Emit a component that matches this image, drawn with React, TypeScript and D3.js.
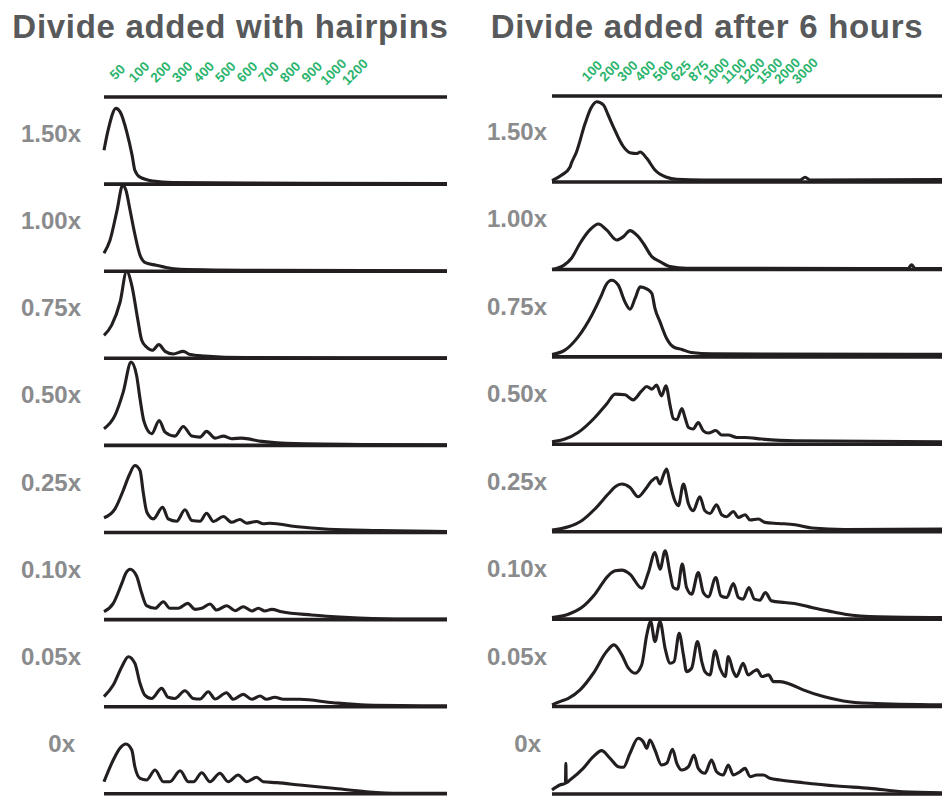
import React from "react";
import * as d3 from "d3";

// panel labels (top to bottom)
const doses = ["1.50x", "1.00x", "0.75x", "0.50x", "0.25x", "0.10x", "0.05x", "0x"];

const leftTitle = "Divide added with hairpins";
const rightTitle = "Divide added after 6 hours";

const leftTicks = ["50", "100", "200", "300", "400", "500", "600", "700", "800", "900", "1000", "1200"];
const rightTicks = ["100", "200", "300", "400", "500", "625", "875", "1000", "1100", "1200", "1500", "2000", "3000"];

// traces: [position %, signal % of panel height]
const hairpins150 = [
  [0, 39], [1.2, 62], [3.5, 87], [4.7, 83], [6.7, 59], [8.2, 33], [9.0, 16], [10.5, 8],
  [14.3, 3.5], [20, 1.7], [42.6, 1.1], [100, 0.6],
];
const hairpins100 = [
  [0, 20.7], [1.75, 35.6], [3.8, 70], [5.45, 98.8], [6.4, 93], [7.6, 70], [9.0, 42.5], [10.5, 18.4],
  [12.2, 9.5], [15.2, 6.9], [18.1, 4.3], [22.2, 2.3], [45.5, 1.1], [100, 0.6],
];
const hairpins075 = [
  [0, 26.4], [2.2, 37.9], [4.7, 64.7], [6.6, 100], [8.1, 83.9], [9.8, 45.6], [11.0, 20.7], [12.4, 13],
  [14.1, 9.2], [16.0, 15.7], [17.8, 8], [20.2, 4.9], [23.1, 8], [25.1, 4.3], [29.4, 2.6], [41.1, 0.8],
  [100, 0.6],
];
const hairpins050 = [
  [0, 19.2], [3.2, 34.5], [5.6, 61.2], [7.9, 95.7], [9.5, 80.4], [10.5, 53.7], [11.7, 26.8], [13.9, 13.4],
  [16.1, 28.7], [17.8, 15.3], [20.7, 10.7], [23.1, 21.8], [25.6, 10.7], [28, 9.5], [29.9, 16.1],
  [32.4, 8.4], [34.8, 10.7], [37.2, 7.7], [40.1, 8.4], [46, 4.6], [55.7, 2], [75.1, 1.1], [100, 0.6],
];
const hairpins025 = [
  [0, 16.9], [3.2, 27.2], [5.6, 48.3], [7.3, 65.5], [9.0, 77], [10.5, 71.2], [11.5, 44.5], [12.5, 23.3],
  [14.4, 15.7], [17.1, 29.1], [18.7, 15.7], [21.2, 13], [23.6, 26.1], [25.6, 13.8], [28, 13],
  [29.9, 22.2], [31.9, 12.6], [34.8, 18.4], [37.2, 11.8], [39.6, 14.9], [41.6, 10.7], [44.5, 12.6],
  [46.4, 10], [48.4, 10.7], [55.7, 6.9], [65.4, 3.8], [80, 2.3], [100, 1.1],
];
const hairpins010 = [
  [0, 9.1], [2.7, 18.7], [5.2, 41.7], [6.4, 53.5], [7.6, 57.8], [9.5, 50.1], [11, 30.2], [12.4, 16],
  [14.9, 13], [17.3, 20.6], [19.2, 13], [21.7, 13], [24.4, 18.7], [26.5, 11.8], [28.5, 13], [30.9, 17.9],
  [32.8, 11], [35.8, 16], [38.2, 10.2], [40.6, 14.8], [43.1, 9.9], [45, 13], [46.9, 9.9], [48.9, 11.8],
  [51.8, 9.1], [60.5, 5.3], [70.2, 2.6], [84.8, 0.7], [100, 0.7],
];
const hairpins005 = [
  [0, 11.5], [2.7, 24.9], [5.2, 46], [7.1, 57.5], [9.0, 49.9], [10.5, 26.9], [11.9, 13.4], [13.9, 9.5],
  [16.8, 21.1], [18.7, 10.8], [20.7, 9.5], [23.6, 18.4], [26, 9.5], [28, 8.8], [30.4, 17.2], [32.4, 8.8],
  [35.7, 16.1], [37.7, 8.5], [40.6, 14.2], [43.1, 8.5], [45.5, 12.3], [47.4, 8.5], [49.8, 10.8],
  [52.3, 8.5], [57.1, 8.5], [66.8, 4.6], [76.5, 2], [100, 1.1],
];
const hairpins000 = [
  [0, 13.9], [2.7, 38.8], [4.7, 52.6], [6.4, 57.2], [8.1, 50.3], [9.0, 31.1], [10.5, 17.8], [12.4, 15.9],
  [14.9, 27.3], [17.3, 13.9], [19.2, 13.9], [22.2, 26.5], [24.6, 13.9], [26.1, 13.9], [28.5, 24.2],
  [30.9, 13.9], [33.8, 23.6], [36.2, 13.9], [39.1, 21.6], [41.6, 13.9], [44.5, 19], [46.4, 13.9],
  [50.3, 12.8], [57.1, 10.1], [66.8, 6.3], [76.5, 2.4], [86.3, 0.6], [100, 0.6],
];

const sixHours150 = [
  [0, 1.5], [2.5, 8], [4.6, 16.9], [4.9, 20.7], [6.3, 34.8], [8.5, 67.4], [10, 85], [11.5, 92.3],
  [13.2, 88.5], [14.4, 77], [15.7, 63.7], [18.3, 40.6], [20, 33.7], [21.8, 32.7], [22.6, 34.5],
  [24.3, 27.2], [26.4, 13.8], [29.4, 5.4], [32, 3.1], [38.8, 2.3], [63.6, 2.3], [64.9, 5.4], [66.2, 2.3],
  [100, 2.9],
];
const sixHours100 = [
  [0, 0], [2.9, 4.4], [5, 12.9], [7.2, 30.1], [9.7, 45.4], [11.9, 52.3], [14, 45.4], [16.6, 33.9],
  [18.3, 37.7], [20, 44.6], [21.7, 39.6], [23.4, 30.1], [25.6, 14.7], [27.7, 9], [30.3, 3.2],
  [34.5, 1.4], [91.3, 1.1], [92.2, 5.2], [93.1, 1.1], [100, 1.1],
];
const sixHours075 = [
  [0, 2.8], [3.3, 7.7], [6.7, 23], [10.2, 47.9], [12.7, 70.9], [13.8, 82.4], [15.3, 88.1], [17, 82.4],
  [18.7, 63.2], [20, 54.8], [21.3, 67.1], [22.6, 80.4], [24.4, 77.8], [25.6, 72.8], [26.4, 55.6],
  [27.7, 40.2], [29.4, 21.1], [31.1, 11.5], [33.3, 8.5], [35.7, 5.1], [40.9, 3.4], [100, 2.8],
];
const sixHours050 = [
  [0, 2.9], [3.3, 6], [6.7, 13.6], [11, 30.8], [14, 46.2], [16.2, 57.7], [18.7, 56.9], [20.8, 51.1],
  [23, 61.5], [24.3, 66.4], [25.6, 63.4], [26.8, 68], [28.1, 55.7], [29.2, 67.2], [30.3, 44.2],
  [31.1, 29.6], [32, 28.2], [33.3, 41.1], [34.1, 30.8], [35, 19.3], [36.2, 17.5], [37.5, 25],
  [38.8, 15.5], [40.1, 12.9], [42, 15.9], [43.5, 10.6], [45.2, 10.6], [47.4, 7.8], [49.5, 7.8],
  [53.8, 6], [62.3, 4], [100, 2.9],
];
const sixHours025 = [
  [0, 2], [4.2, 5.7], [7.6, 12.6], [11, 26.1], [14.4, 43.3], [16.2, 51.7], [17.9, 54.8], [20, 50.9],
  [22.1, 40.2], [23.8, 47.9], [25.6, 58.6], [26.8, 62.4], [27.7, 54.8], [28.5, 64.3], [29.4, 72],
  [30.3, 54.8], [31.5, 35.6], [32.4, 29.9], [33.7, 54.8], [35, 31.8], [36.2, 24.1], [37.9, 40.2],
  [39.2, 24.1], [40.5, 21], [42.2, 31], [43.5, 19.5], [44.8, 17.2], [46.5, 23.3], [47.8, 16.4],
  [49.5, 19.5], [50.8, 13.4], [52.9, 14.6], [54.6, 10.7], [58, 9.5], [62.3, 8], [66.6, 4.3],
  [75.1, 2.6], [100, 3.1],
];
const sixHours010 = [
  [0, 1.8], [4.2, 5.7], [7.6, 13.3], [11, 28.7], [14.4, 49.8], [16.2, 55.5], [17.9, 56.3], [20, 51.7],
  [23, 35.6], [24.7, 53.5], [26.4, 76.5], [27.7, 57.5], [29, 78.5], [30.3, 51.7], [31.1, 36.4],
  [32.2, 34.5], [33.4, 63.2], [34.5, 36.4], [35.8, 28.7], [37.5, 53.5], [38.8, 30.6], [40.1, 25.6],
  [42, 47.8], [43.3, 26.8], [44.8, 24.9], [46.5, 40.9], [47.8, 24.9], [49, 23], [50.5, 36.3],
  [51.9, 23], [53.3, 21.8], [54.7, 30.6], [56.3, 21], [59.7, 19.1], [63.1, 17.2], [66.6, 13.3],
  [70.8, 9.5], [75.1, 5.7], [83.7, 2.6], [100, 1.8],
];
const sixHours005 = [
  [0, 2], [2, 5.7], [4.2, 9.5], [7.2, 19.2], [10.6, 38.3], [14, 63.2], [15.9, 70.9], [17.9, 59.4],
  [19.6, 44.1], [21.3, 38.3], [23, 47.9], [24.3, 82.4], [25.3, 97.7], [26.4, 74.7], [27.7, 97.7],
  [29, 67], [30.3, 49.8], [31.3, 51.7], [32.6, 84.2], [33.7, 59.4], [34.5, 40.2], [35.8, 44],
  [37.3, 74.7], [38.4, 51.7], [39.2, 40.2], [40.5, 36.4], [41.8, 64], [43.1, 44], [44.4, 34.5],
  [45.2, 57.5], [46.5, 40.2], [47.3, 34.5], [49, 49.8], [50.3, 36.4], [51.6, 40.2], [52.6, 42.2],
  [53.8, 34.5], [55.5, 36.4], [56.8, 28.7], [58.5, 28.7], [61.1, 25.6], [64.4, 19.2], [69.6, 11.5],
  [74.7, 6.5], [81.5, 3.8], [100, 2],
];
const sixHours000 = [
  [0, 4.6], [2, 10.3], [3.45, 12.3], [3.55, 35.3], [3.65, 13], [4.6, 16.1], [8, 29.5], [10.6, 42.9],
  [12.7, 49.8], [14.9, 41], [17, 31.4], [18.3, 30.7], [20, 46.8], [22.1, 64], [23.4, 60.1], [24.3, 52.5],
  [25.1, 62], [26.4, 50.6], [28.1, 33.3], [29.4, 35.3], [30.9, 51.4], [32, 35.3], [33.3, 27.6],
  [35, 31.4], [36.4, 44.8], [37.5, 29.5], [39.2, 23.8], [40.9, 39.1], [42.2, 25.6], [43.9, 21.8],
  [45.2, 33.3], [46.5, 21.8], [48.2, 25.6], [49.5, 29.5], [50.8, 19.9], [52.5, 21.8], [54.2, 21.8],
  [55.9, 18], [58.5, 16.1], [64.4, 13], [73, 9.2], [81.5, 6.5], [90, 2.6], [100, 1.5],
];

const leftTraces = [hairpins150, hairpins100, hairpins075, hairpins050, hairpins025, hairpins010, hairpins005, hairpins000];
const rightTraces = [sixHours150, sixHours100, sixHours075, sixHours050, sixHours025, sixHours010, sixHours005, sixHours000];

const width = 942,
  height = 797;
const panelH = 87;
const ink = "#231f20";
const font = "'Liberation Sans', Arial, Helvetica, sans-serif";

const columns = [
  {
    title: leftTitle,
    titleX: 230.5,
    ticks: leftTicks,
    tickRange: [117.5, 355],
    tickY: 72,
    traces: leftTraces,
    x: d3.scaleLinear().domain([0, 100]).range([104, 447]),
    base: d3.scaleLinear().domain([0, doses.length - 1]).range([184.1, 793.8]),
    top: 97,
    labelX: 81,
  },
  {
    title: rightTitle,
    titleX: 707,
    ticks: rightTicks,
    tickRange: [592, 805],
    tickY: 71,
    traces: rightTraces,
    x: d3.scaleLinear().domain([0, 100]).range([552, 942]),
    base: d3.scaleLinear().domain([0, doses.length - 1]).range([182, 794]),
    top: 96,
    labelX: 547,
  },
];

const Column = ({ col }) => {
  const tickScale = d3.scalePoint().domain(col.ticks).range(col.tickRange);
  const [x0, x1] = col.x.range();
  return (
    <g>
      <text
        x={col.titleX}
        y={38}
        textAnchor="middle"
        fontFamily={font}
        fontWeight="bold"
        fontSize={33}
        letterSpacing={0.7}
        fill="#58595b"
      >
        {col.title}
      </text>

      {col.ticks.map((t) => (
        <text
          key={t}
          transform={`translate(${tickScale(t)},${col.tickY}) rotate(-45)`}
          textAnchor="middle"
          dominantBaseline="central"
          fontFamily={font}
          fontWeight="bold"
          fontSize={13.5}
          fill="#2bb46e"
        >
          {t}
        </text>
      ))}

      <line x1={x0} x2={x1} y1={col.top} y2={col.top} stroke={ink} strokeWidth={3.4} />

      {doses.map((dose, i) => {
        const b = col.base(i);
        const y = d3.scaleLinear().domain([0, 100]).range([b, b - panelH]);
        const line = d3
          .line()
          .x((d) => col.x(d[0]))
          .y((d) => y(d[1]))
          .curve(d3.curveMonotoneX);
        return (
          <g key={dose}>
            <line x1={x0} x2={x1} y1={b} y2={b} stroke={ink} strokeWidth={3.6} />
            <path d={line(col.traces[i])} fill="none" stroke={ink} strokeWidth={3.1} strokeLinejoin="round" />
            <text
              x={col.labelX}
              dx={dose === "0x" ? -6 : 0}
              y={b - 42}
              textAnchor="end"
              fontFamily={font}
              fontWeight="bold"
              fontSize={24}
              fill="#8a8b8d"
            >
              {dose}
            </text>
          </g>
        );
      })}
    </g>
  );
};

export default function App() {
  return (
    <svg
      width={width}
      height={height}
      style={{ position: "absolute", left: 0, top: 0, background: "#fff" }}
    >
      {columns.map((col) => (
        <Column key={col.title} col={col} />
      ))}
    </svg>
  );
}
